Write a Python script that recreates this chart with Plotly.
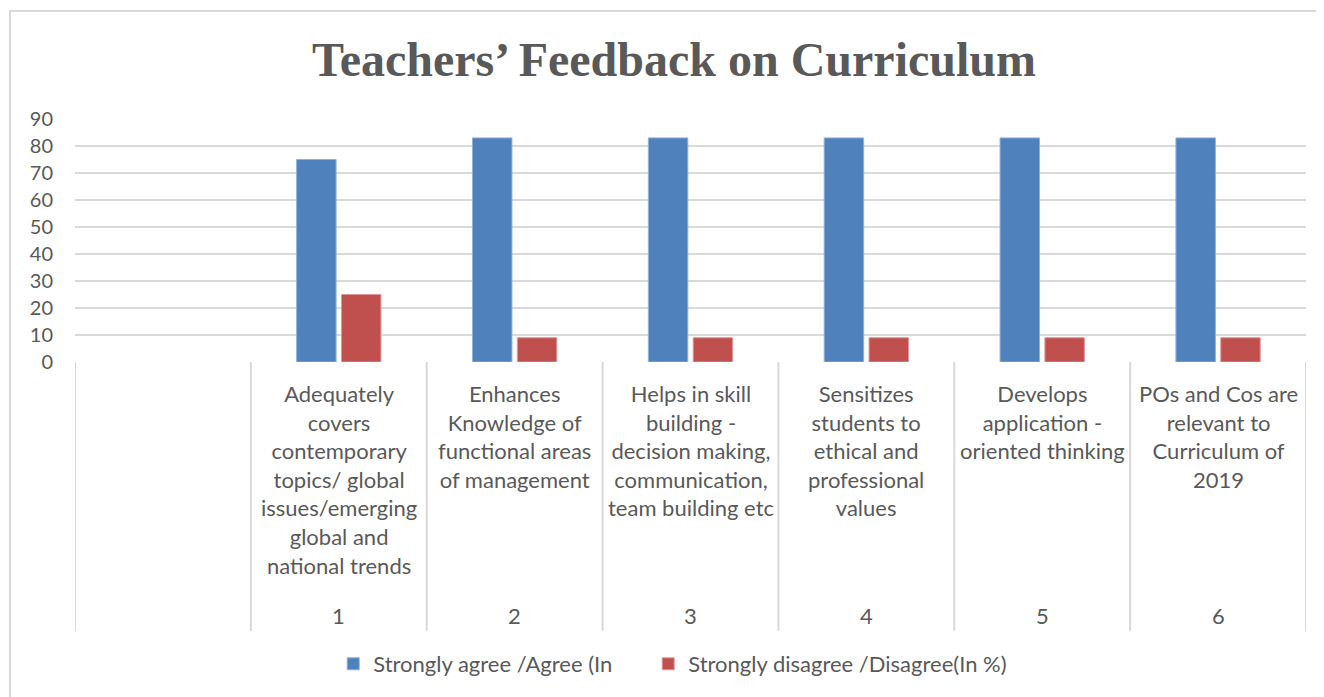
import plotly.graph_objects as go

categories = [
    "",
    "Adequately<br>covers<br>contemporary<br>topics/ global<br>issues/emerging<br>global and<br>national trends",
    "Enhances<br>Knowledge of<br>functional areas<br>of management",
    "Helps in skill<br>building -<br>decision making,<br>communication,<br>team building etc",
    "Sensitizes<br>students to<br>ethical and<br>professional<br>values",
    "Develops<br>application -<br>oriented thinking",
    "POs and Cos are<br>relevant to<br>Curriculum of<br>2019",
]
numbers = ["", "1", "2", "3", "4", "5", "6"]
agree = [None, 75, 83, 83, 83, 83, 83]
disagree = [None, 25, 9, 9, 9, 9, 9]
series_names = ["Strongly agree /Agree (In", "Strongly disagree /Disagree(In %)"]
y_ticks = [0, 10, 20, 30, 40, 50, 60, 70, 80, 90]

TXT = "#595959"
GRID = "#d9d9d9"
FONT = "Lato"

# page offset (browser body margin)
OFF = 8
L, R, T, B = 75 - OFF, 1324 - (1306 - OFF), 119 - OFF, 697 - (362 - OFF)
PW = 1324 - L - R
PH = 697 - T - B
Y0 = 362  # screen y of plot bottom


def py(screen_y):
    return (Y0 - screen_y) / PH


def px(screen_x):
    return (screen_x - 75) / PW


xpos = list(range(len(categories)))

fig = go.Figure()
fig.add_trace(go.Bar(x=xpos, y=agree, name=series_names[0], legend="legend", showlegend=True,
                     marker=dict(color="#4F81BD", line=dict(color="#8fb0d8", width=1))))
fig.add_trace(go.Bar(x=xpos, y=disagree, name=series_names[1], legend="legend2", showlegend=True,
                     marker=dict(color="#C0504D", line=dict(color="#e09896", width=1))))

annotations = []
for i, (lab, num) in enumerate(zip(categories, numbers)):
    if lab:
        annotations.append(dict(x=i, xref="x", y=py(378), yref="paper", text=lab,
                                showarrow=False, xanchor="center", yanchor="top",
                                align="center", font=dict(family=FONT, size=22, color=TXT)))
    if num:
        annotations.append(dict(x=i, xref="x", y=py(615), yref="paper", text=num,
                                showarrow=False, xanchor="center", yanchor="middle",
                                font=dict(family=FONT, size=22, color=TXT)))

shapes = []
for i in range(len(categories) + 1):
    shapes.append(dict(type="line", xref="x", yref="paper", x0=i - 0.5, x1=i - 0.5,
                       y0=0, y1=py(631), line=dict(color=GRID, width=2)))
shapes.append(dict(type="rect", xref="paper", yref="paper",
                   x0=px(10), x1=1.2, y0=-2, y1=py(11),
                   line=dict(color=GRID, width=2), fillcolor="rgba(0,0,0,0)"))

legend_common = dict(orientation="h", xanchor="left", yanchor="middle", y=py(664),
                     font=dict(family=FONT, size=22, color=TXT), itemclick=False,
                     bgcolor="rgba(0,0,0,0)", visible=True)

fig.update_layout(
    width=1324, height=697,
    showlegend=True,
    margin=dict(l=L, r=R, t=T, b=B, autoexpand=False),
    paper_bgcolor="white", plot_bgcolor="white",
    title=dict(text="Teachers’ Feedback on Curriculum", x=(674 - OFF) / 1324, xanchor="center",
               y=1 - (59 - OFF) / 697, yanchor="middle",
               font=dict(family="Liberation Serif", size=48, color=TXT, weight="bold")),
    barmode="group", bargap=0.49, bargroupgap=0.12,
    xaxis=dict(range=[-0.5, len(categories) - 0.5], showticklabels=False, showgrid=False,
               zeroline=False, showline=False, ticks=""),
    yaxis=dict(range=[0, 90], tickvals=y_ticks, showgrid=True, gridcolor=GRID, gridwidth=1.5,
               zeroline=False, showline=False, ticks="", ticklabelstandoff=21,
               tickfont=dict(family=FONT, size=20, color=TXT)),
    legend=dict(x=px(348) - 0.012, **legend_common),
    legend2=dict(x=px(663) - 0.012, **legend_common),
    annotations=annotations, shapes=shapes,
)

fig.write_html("out.html")
